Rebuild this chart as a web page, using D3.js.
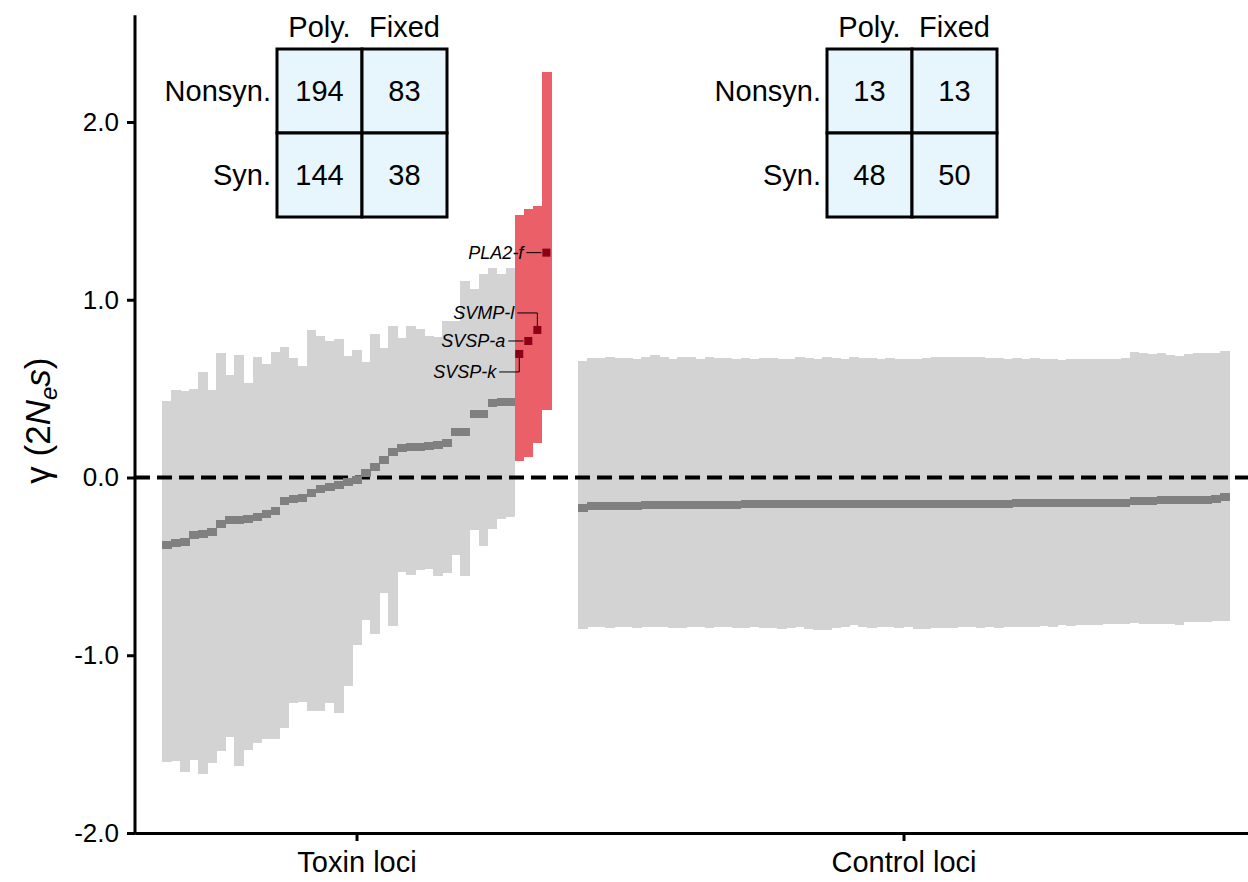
<!DOCTYPE html>
<html>
<head>
<meta charset="utf-8">
<script src="https://cdn.jsdelivr.net/npm/d3@7/dist/d3.min.js"></script>
<style>
body { margin: 0; background: #fff; }
svg { display: block; font-family: "Liberation Sans", Arial, sans-serif; }
</style>
</head>
<body>
<div id="chart"></div>
<script>
// gamma estimates per locus (95% interval + mean)

var categories = ["Toxin loci", "Control loci"];
var yTicks = [-2, -1, 0, 1, 2];

// toxin loci without significant selection (grey)
var toxinLow = [-1.602, -1.595, -1.655, -1.589, -1.670, -1.608, -1.539, -1.460, -1.623, -1.533,
    -1.495, -1.469, -1.469, -1.411, -1.267, -1.261, -1.312, -1.312, -1.269, -1.325,
    -1.171, -0.942, -0.802, -0.880, -0.650, -0.835, -0.532, -0.549, -0.520, -0.515,
    -0.554, -0.537, -0.436, -0.554, -0.295, -0.385, -0.290, -0.233, -0.222];
var toxinHigh = [0.432, 0.494, 0.485, 0.500, 0.594, 0.491, 0.702, 0.577, 0.691, 0.533,
    0.678, 0.640, 0.706, 0.734, 0.672, 0.629, 0.828, 0.798, 0.770, 0.779,
    0.684, 0.717, 0.650, 0.806, 0.730, 0.852, 0.785, 0.852, 0.837, 0.796,
    0.790, 0.882, 0.882, 1.105, 1.060, 1.145, 1.176, 1.145, 1.176];
var toxinMean = [-0.381, -0.370, -0.361, -0.323, -0.318, -0.305, -0.262, -0.239, -0.239, -0.233,
    -0.221, -0.207, -0.187, -0.131, -0.123, -0.117, -0.086, -0.066, -0.055, -0.041,
    -0.027, -0.014, 0.025, 0.059, 0.098, 0.143, 0.166, 0.173, 0.173, 0.177,
    0.183, 0.194, 0.256, 0.256, 0.357, 0.357, 0.419, 0.426, 0.426];

// toxin loci under positive selection (red)
var selNames = ["SVSP-k", "SVSP-a", "SVMP-l", "PLA2-f"];
var selLow = [0.093, 0.117, 0.192, 0.380];
var selHigh = [1.475, 1.511, 1.529, 2.283];
var selMean = [0.695, 0.768, 0.830, 1.265];

// control loci
var controlLow = [-0.854, -0.843, -0.839, -0.849, -0.839, -0.843, -0.849, -0.839, -0.839, -0.843,
    -0.849, -0.845, -0.839, -0.843, -0.847, -0.839, -0.843, -0.845, -0.849, -0.843,
    -0.845, -0.849, -0.852, -0.845, -0.843, -0.852, -0.858, -0.858, -0.849, -0.843,
    -0.830, -0.839, -0.845, -0.839, -0.843, -0.847, -0.843, -0.852, -0.852, -0.845,
    -0.849, -0.845, -0.843, -0.839, -0.847, -0.843, -0.845, -0.843, -0.843, -0.839,
    -0.843, -0.835, -0.839, -0.832, -0.835, -0.828, -0.830, -0.828, -0.822, -0.825,
    -0.825, -0.820, -0.822, -0.822, -0.822, -0.825, -0.828, -0.815, -0.811, -0.811,
    -0.806, -0.806];
var controlHigh = [0.657, 0.672, 0.672, 0.680, 0.672, 0.672, 0.668, 0.676, 0.687, 0.676,
    0.668, 0.680, 0.680, 0.668, 0.680, 0.672, 0.670, 0.668, 0.672, 0.668,
    0.670, 0.672, 0.668, 0.668, 0.676, 0.672, 0.668, 0.680, 0.672, 0.668,
    0.680, 0.672, 0.670, 0.668, 0.672, 0.668, 0.665, 0.668, 0.672, 0.676,
    0.680, 0.680, 0.676, 0.680, 0.676, 0.671, 0.671, 0.668, 0.671, 0.668,
    0.671, 0.665, 0.665, 0.662, 0.665, 0.665, 0.668, 0.665, 0.665, 0.668,
    0.672, 0.706, 0.699, 0.695, 0.699, 0.689, 0.685, 0.695, 0.699, 0.699,
    0.699, 0.714];
var controlMean = [-0.170, -0.159, -0.159, -0.159, -0.159, -0.159, -0.159, -0.152, -0.152, -0.152,
    -0.152, -0.152, -0.152, -0.152, -0.152, -0.152, -0.152, -0.152, -0.151, -0.151,
    -0.151, -0.150, -0.150, -0.150, -0.150, -0.150, -0.150, -0.150, -0.150, -0.150,
    -0.150, -0.150, -0.150, -0.149, -0.149, -0.149, -0.149, -0.149, -0.149, -0.149,
    -0.149, -0.149, -0.149, -0.149, -0.149, -0.149, -0.149, -0.149, -0.146, -0.146,
    -0.146, -0.146, -0.146, -0.146, -0.146, -0.146, -0.146, -0.146, -0.141, -0.141,
    -0.141, -0.134, -0.134, -0.134, -0.128, -0.128, -0.128, -0.128, -0.128, -0.128,
    -0.119, -0.111];

// McDonald-Kreitman tables
var tableCols = ["Poly.", "Fixed"];
var tableRows = ["Nonsyn.", "Syn."];
var toxinCounts = [[194, 83], [144, 38]];
var controlCounts = [[13, 13], [48, 50]];

var svgWidth = 1248;
var svgHeight = 882;

var svg = d3.select("#chart")
    .append("svg")
    .attr("width", svgWidth)
    .attr("height", svgHeight);

// one slot per locus, control block starts after a 3-slot gap
var nToxin = toxinLow.length + selLow.length;
var controlStart = nToxin + 3;
var nAll = controlStart + controlLow.length;

var x = d3.scaleLinear().domain([-3, nAll + 2.1]).range([135, 1248]);
var y = d3.scaleLinear().domain([-2, 2]).range([833, 122]);
var bw = x(1) - x(0);

var grey = toxinLow.map((d, i) => ({ i: i, lo: d, hi: toxinHigh[i], m: toxinMean[i] }))
    .concat(controlLow.map((d, i) => ({ i: controlStart + i, lo: d, hi: controlHigh[i], m: controlMean[i] })));
var sel = selLow.map((d, i) => ({ i: toxinLow.length + i, lo: d, hi: selHigh[i], m: selMean[i], name: selNames[i] }));

// interval bars
svg.append("g").selectAll("rect")
    .data(grey)
    .enter()
    .append("rect")
    .attr("x", d => x(d.i))
    .attr("width", bw + 0.6)
    .attr("y", d => y(d.hi))
    .attr("height", d => y(d.lo) - y(d.hi))
    .attr("shape-rendering", "crispEdges")
    .style("fill", "#d3d3d3");

svg.append("g").selectAll("rect")
    .data(sel)
    .enter()
    .append("rect")
    .attr("x", d => x(d.i))
    .attr("width", bw + 0.6)
    .attr("y", d => y(d.hi))
    .attr("height", d => y(d.lo) - y(d.hi))
    .attr("shape-rendering", "crispEdges")
    .style("fill", "#eb5f69");

// zero line
svg.append("line")
    .attr("x1", x(-3)).attr("x2", 1248)
    .attr("y1", y(0)).attr("y2", y(0))
    .style("stroke", "#000")
    .style("stroke-width", 4)
    .style("stroke-dasharray", "15,7");

// means
svg.append("g").selectAll("rect")
    .data(grey)
    .enter()
    .append("rect")
    .attr("x", d => x(d.i))
    .attr("width", bw + 0.6)
    .attr("y", d => y(d.m) - 4)
    .attr("height", 8)
    .attr("shape-rendering", "crispEdges")
    .style("fill", "#808080");

svg.append("g").selectAll("rect")
    .data(sel)
    .enter()
    .append("rect")
    .attr("x", d => x(d.i) + 0.5)
    .attr("width", bw - 1)
    .attr("y", d => y(d.m) - 4)
    .attr("height", 8)
    .style("fill", "#8b0016");

// gene labels with leaders
var labelDy = [18, 0, -17, 0];
var labelElbow = [true, false, true, false];
var lab = svg.append("g");
sel.forEach(function (d, k) {
    var px = x(d.i) + bw / 2;
    var py = y(d.m);
    var ly = py + labelDy[k];
    lab.append("line")
        .attr("x1", px - 20).attr("x2", labelElbow[k] ? px : px - 5)
        .attr("y1", ly).attr("y2", ly)
        .style("stroke", "#000").style("stroke-width", 1);
    if (labelElbow[k]) {
        lab.append("line")
            .attr("x1", px).attr("x2", px)
            .attr("y1", ly).attr("y2", py + (labelDy[k] > 0 ? 4 : -4))
            .style("stroke", "#000").style("stroke-width", 1);
    }
    lab.append("text")
        .attr("x", px - 23)
        .attr("y", ly)
        .attr("dy", "0.35em")
        .attr("text-anchor", "end")
        .style("font-style", "italic")
        .style("font-size", "18px")
        .text(d.name);
});

// axes
var yAxis = d3.axisLeft(y).tickValues(yTicks).tickFormat(d => d.toFixed(1)).tickSize(8).tickPadding(8);
var yg = svg.append("g")
    .attr("transform", `translate(${x(-3)}, 0)`)
    .call(yAxis);
yg.select(".domain").remove();
yg.selectAll("line").style("stroke-width", 3);
yg.selectAll("text").style("font-size", "26px");

svg.append("line")
    .attr("x1", x(-3)).attr("x2", x(-3))
    .attr("y1", y(-2) + 1.5).attr("y2", y(2.6))
    .style("stroke", "#000")
    .style("stroke-width", 3);

var xAxis = d3.axisBottom(x)
    .tickValues([nToxin / 2, (controlStart + nAll) / 2])
    .tickFormat((d, i) => categories[i])
    .tickSize(8)
    .tickSizeOuter(0)
    .tickPadding(10);
var xg = svg.append("g")
    .attr("transform", `translate(0, ${y(-2)})`)
    .call(xAxis);
xg.selectAll("line, path").style("stroke-width", 3);
xg.selectAll("text").style("font-size", "29px");

// y title
var yt = svg.append("text")
    .attr("transform", `translate(50, ${y(0.32)}) rotate(-90)`)
    .attr("text-anchor", "middle")
    .style("font-size", "35px");
yt.append("tspan").text("\u03b3 (2");
yt.append("tspan").style("font-style", "italic").text("N");
yt.append("tspan").style("font-style", "italic").style("font-size", "24px").attr("dy", 7).text("e");
yt.append("tspan").style("font-style", "italic").attr("dy", -7).text("s");
yt.append("tspan").text(")");

// MK tables
function drawTable(left, counts) {
    var cw = 85, ch = 84, top = 49;
    var g = svg.append("g").attr("transform", `translate(${left}, ${top})`);
    counts.forEach(function (row, r) {
        row.forEach(function (v, c) {
            g.append("rect")
                .attr("x", c * cw).attr("y", r * ch)
                .attr("width", cw).attr("height", ch)
                .style("fill", "#e7f6fc")
                .style("stroke", "#000")
                .style("stroke-width", 3);
            g.append("text")
                .attr("x", c * cw + cw / 2).attr("y", r * ch + ch / 2)
                .attr("dy", "0.35em")
                .attr("text-anchor", "middle")
                .style("font-size", "29px")
                .text(v);
        });
        g.append("text")
            .attr("x", -6).attr("y", r * ch + ch / 2)
            .attr("dy", "0.35em")
            .attr("text-anchor", "end")
            .style("font-size", "29px")
            .text(tableRows[r]);
    });
    tableCols.forEach(function (t, c) {
        g.append("text")
            .attr("x", c * cw + cw / 2).attr("y", -22)
            .attr("dy", "0.35em")
            .attr("text-anchor", "middle")
            .style("font-size", "29px")
            .text(t);
    });
}
drawTable(277, toxinCounts);
drawTable(827, controlCounts);
</script>
</body>
</html>
